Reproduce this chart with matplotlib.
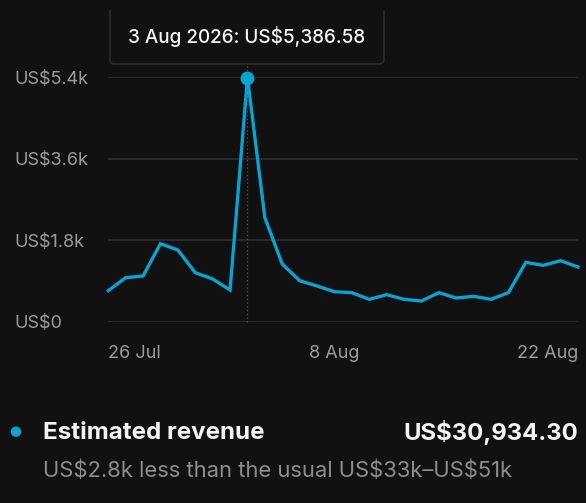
import matplotlib
matplotlib.use("Agg")
import matplotlib.pyplot as plt
from matplotlib.patches import FancyBboxPatch, Rectangle, Ellipse
import pandas as pd

plt.rcParams['font.family'] = ['Inter', 'DejaVu Sans']

# ---- data ----
start_date = "2026-07-26"
revenue = [690, 977, 1014, 1726, 1587, 1087, 948, 705, 5386.58, 2300,
           1278, 911, 793, 668, 646, 500, 602, 500, 463, 646,
           529, 566, 500, 646, 1315, 1249, 1351, 1212]
y_ticks = [0, 1800, 3600, 5400]
y_tick_labels = ["US$0", "US$1.8k", "US$3.6k", "US$5.4k"]
x_tick_dates = ["2026-07-26", "2026-08-08", "2026-08-22"]
x_tick_labels = ["26 Jul", "8 Aug", "22 Aug"]
highlight_date = "2026-08-03"
tooltip_text = "3 Aug 2026: US$5,386.58"
legend_label = "Estimated revenue"
legend_total = "US$30,934.30"
legend_note = "US$2.8k less than the usual US$33k\u2013US$51k"

BG = '#111111'
LINE = '#0aa3cf'
GRID = '#2a2a2a'
LABEL = '#9c9c9c'

W, H = 586, 503
fig = plt.figure(figsize=(W / 100, H / 100), dpi=100, facecolor=BG)

def fx(x):
    return x / W

def fy(y):
    return 1 - y / H

left, right, top, bottom = 108.3, 578, 77, 322
ax = fig.add_axes([fx(left), fy(bottom), (right - left) / W, (bottom - top) / H])
ax.set_facecolor(BG)

dates = pd.date_range(start_date, periods=len(revenue), freq='D').to_pydatetime()
ax.plot(dates, revenue, color=LINE, lw=2.4, solid_joinstyle='miter', clip_on=False, zorder=3)

hd = pd.Timestamp(highlight_date).to_pydatetime()
hi = list(dates).index(hd)
ax.plot([dates[hi]], [revenue[hi]], 'o', color=LINE, ms=9, clip_on=False, zorder=4)

ax.set_xlim(dates[0], dates[-1])
ax.set_ylim(0, 5400)

for s in ax.spines.values():
    s.set_visible(False)

ax.set_yticks(y_ticks)
ax.set_yticklabels(y_tick_labels)
ax.tick_params(axis='y', length=0, pad=(left - 14) * 0.72, labelsize=13, labelcolor=LABEL)
for lab in ax.get_yticklabels():
    lab.set_horizontalalignment('left')

xt = [pd.Timestamp(d).to_pydatetime() for d in x_tick_dates]
ax.set_xticks(xt)
ax.set_xticklabels(x_tick_labels)
ax.tick_params(axis='x', length=0, pad=16.5, labelsize=13, labelcolor=LABEL)
xl = ax.get_xticklabels()
xl[0].set_horizontalalignment('left')
xl[-1].set_horizontalalignment('right')

ax.grid(axis='y', color=GRID, lw=1.4)
ax.grid(axis='x', visible=False)
ax.set_axisbelow(True)

# vertical dotted guide line from tooltip to baseline
ax.axvline(dates[hi], ymin=0, ymax=1 + (top - 64) / (bottom - top), color='#555555',
           lw=0.9, ls=(0, (1, 2)), clip_on=False, zorder=2)

# tooltip box (clipped at top)
box = FancyBboxPatch((fx(110), fy(64)), fx(384) - fx(110), fy(-20) - fy(64),
                     boxstyle="round,pad=0,rounding_size=0.008",
                     transform=fig.transFigure, facecolor=BG, edgecolor=GRID, lw=1.3, zorder=5)
fig.add_artist(box)
clip = Rectangle((0, fy(503)), 1, fy(10) - fy(503), transform=fig.transFigure)
box.set_clip_path(clip)
fig.text(fx(246.5), fy(36.5), tooltip_text, ha='center', va='center', fontsize=13.6,
         fontweight='medium', color='#f4f4f4', zorder=6)

# legend area
fig.add_artist(Ellipse((fx(16), fy(431.7)), 10.5 / W, 10.5 / H, transform=fig.transFigure,
                       facecolor=LINE, edgecolor='none'))
fig.text(fx(43), fy(439.3), legend_label, ha='left', va='baseline', fontsize=17.4,
         fontweight='bold', color='#f4f4f4')
fig.text(fx(578), fy(439.8), legend_total, ha='right', va='baseline', fontsize=17.2,
         fontweight='bold', color='#f4f4f4')
fig.text(fx(43), fy(477), legend_note, ha='left', va='baseline', fontsize=15.8,
         color='#8e8e8e')

fig.savefig('out.png', dpi=100, facecolor=BG)
